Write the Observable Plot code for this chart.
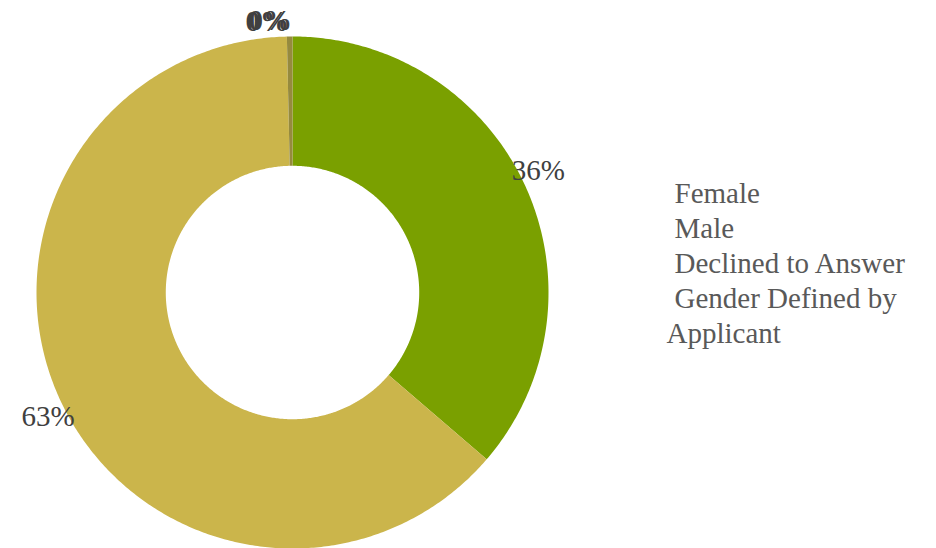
<!DOCTYPE html>
<html><head><meta charset="utf-8">
<script src="https://cdn.jsdelivr.net/npm/d3@7"></script>
<script src="https://cdn.jsdelivr.net/npm/@observablehq/plot@0.6"></script>
<style>body{margin:0;background:#fff;} svg{display:block;}</style>
</head><body><div id="chart"></div>
<script>
const categories = ["Female", "Male", "Declined to Answer", "Gender Defined by Applicant"];
const values = [36.3, 63.35, 0.35, 0.0];
const labels = ["36%", "63%", "0%", "0%"];
const colors = ["#7AA000", "#CBB54B", "#968A3E", "#7F7F7F"];

const W = 936, H = 548, CX = 292, CY = 292, R = 256;
const inner = 0.495;
const total = d3.sum(values);
const FONT = "'Liberation Serif', 'DejaVu Serif', 'Times New Roman', Times, serif";

// build slice polygons
let acc = 0;
const slices = categories.map((c, i) => {
  const a0 = acc / total * 2 * Math.PI;
  acc += values[i];
  const a1 = acc / total * 2 * Math.PI;
  return {cat: c, a0, a1, mid: (a0 + a1) / 2, label: labels[i]};
});
const pts = [];
for (const s of slices) {
  const n = Math.max(2, Math.ceil((s.a1 - s.a0) / 0.01));
  for (let k = 0; k <= n; k++) {
    const a = s.a0 + (s.a1 - s.a0) * k / n;
    pts.push({cat: s.cat, x: Math.sin(a), y: Math.cos(a)});
  }
  for (let k = n; k >= 0; k--) {
    const a = s.a0 + (s.a1 - s.a0) * k / n;
    pts.push({cat: s.cat, x: inner * Math.sin(a), y: inner * Math.cos(a)});
  }
}
const lr = 1.072;
const labelPts = slices.map(s => ({label: s.label, x: lr * Math.sin(s.mid - 0.03), y: lr * Math.cos(s.mid - 0.03), small: (s.a1 - s.a0) < 0.1}));

// legend lines (wrapping long names)
const px2x = p => (p - CX) / R, px2y = p => (CY - p) / R;
const legendLines = [];
categories.forEach(c => {
  if (c.length > 20) {
    const words = c.split(" ");
    legendLines.push({t: words.slice(0, 3).join(" "), indent: true});
    legendLines.push({t: words.slice(3).join(" "), indent: false});
  } else legendLines.push({t: c, indent: true});
});
legendLines.forEach((l, i) => { l.x = px2x(l.indent ? 674 : 666); l.y = px2y(193 + 35 * i); });

const plot = Plot.plot({
  width: W, height: H,
  margin: 0,
  x: {domain: [-CX / R, (W - CX) / R], axis: null},
  y: {domain: [-(H - CY) / R, CY / R], axis: null},
  color: {domain: categories, range: colors},
  style: {background: "#fff", fontFamily: FONT},
  marks: [
    Plot.line(pts, {x: "x", y: "y", z: "cat", fill: "cat", stroke: "none", curve: "linear-closed"}),
    Plot.text(labelPts.filter(d => !d.small), {x: "x", y: "y", text: "label", fontSize: 29, fill: "#404040", fontFamily: FONT}),
    Plot.text(labelPts.filter(d => d.small), {x: "x", y: "y", text: "label", fontSize: 29, fill: "#404040", dx: -14, dy: 3, fontWeight: "bold", fontFamily: FONT}),
    Plot.text(legendLines, {x: "x", y: "y", text: "t", textAnchor: "start", fontSize: 29, fill: "#595959", fontFamily: FONT})
  ]
});
document.getElementById("chart").appendChild(plot);
</script></body></html>
